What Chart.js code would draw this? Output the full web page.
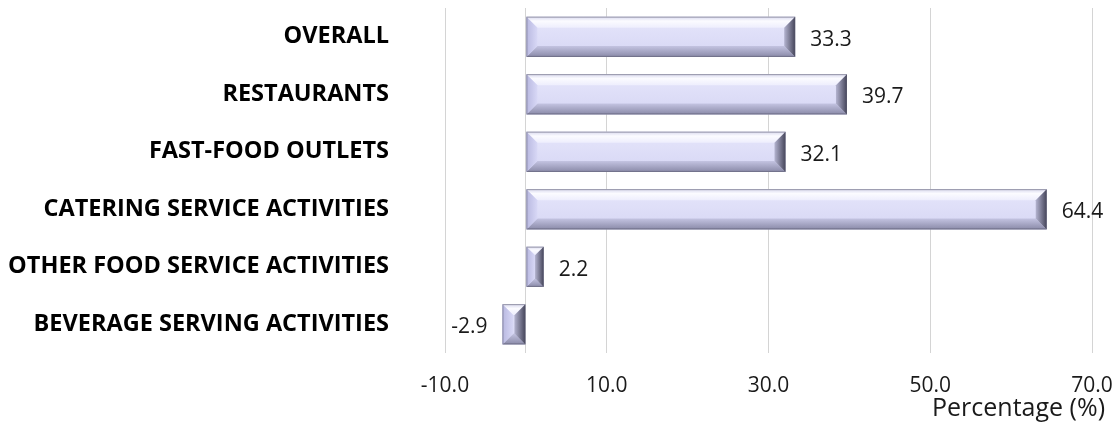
<!DOCTYPE html>
<html>
<head>
<meta charset="utf-8">
<script src="https://cdn.jsdelivr.net/npm/chart.js@4/dist/chart.umd.min.js"></script>
<style>
    html, body { margin: 0; padding: 0; background: #fff; }
    #wrap { width: 1114px; height: 434px; }
</style>
</head>
<body>
<div id="wrap"><canvas id="chart"></canvas></div>
<script>
const categories = [
    'OVERALL',
    'RESTAURANTS',
    'FAST-FOOD OUTLETS',
    'CATERING SERVICE ACTIVITIES',
    'OTHER FOOD SERVICE ACTIVITIES',
    'BEVERAGE SERVING ACTIVITIES'
];
const values = [33.3, 39.7, 32.1, 64.4, 2.2, -2.9];
// gridlines; 0 gets a line but no label
const tickValues = [-10, 0, 10, 30, 50, 70];
const axisTitle = 'Percentage (%)';

const FONT = '"Open Sans", "Noto Sans", sans-serif';

function poly(ctx, pts, fill) {
    ctx.beginPath();
    ctx.moveTo(pts[0][0], pts[0][1]);
    for (let i = 1; i < pts.length; i++) ctx.lineTo(pts[i][0], pts[i][1]);
    ctx.closePath();
    ctx.fillStyle = fill;
    ctx.fill();
}

// Bevelled bars + value labels, drawn from the bar elements
const bevelBars = {
    id: 'bevelBars',
    afterDatasetsDraw(chart) {
        const ctx = chart.ctx;
        const meta = chart.getDatasetMeta(0);
        ctx.save();
        meta.data.forEach((bar, i) => {
            const p = bar.getProps(['x', 'y', 'base', 'height'], true);
            const x0 = Math.min(p.x, p.base), x1 = Math.max(p.x, p.base);
            const y0 = p.y - p.height / 2, y1 = p.y + p.height / 2;
            const w = x1 - x0, h = y1 - y0;
            const b = Math.min(11, w / 2, h / 2);

            // face
            let g = ctx.createLinearGradient(0, y0, 0, y1);
            g.addColorStop(0, '#e6e6fb');
            g.addColorStop(1, '#d6d6f4');
            ctx.fillStyle = g;
            ctx.fillRect(x0, y0, w, h);

            // top
            g = ctx.createLinearGradient(0, y0, 0, y0 + b);
            g.addColorStop(0, '#d8d8ee');
            g.addColorStop(0.4, '#fbfbff');
            g.addColorStop(1, '#eeeefd');
            poly(ctx, [[x0, y0], [x1, y0], [x1 - b, y0 + b], [x0 + b, y0 + b]], g);
            // bottom
            g = ctx.createLinearGradient(0, y1 - b, 0, y1);
            g.addColorStop(0, '#c4c4e2');
            g.addColorStop(1, '#8a8aa8');
            poly(ctx, [[x0, y1], [x1, y1], [x1 - b, y1 - b], [x0 + b, y1 - b]], g);
            // left
            g = ctx.createLinearGradient(x0, 0, x0 + b, 0);
            g.addColorStop(0, '#b8b8e0');
            g.addColorStop(1, '#d8d8f6');
            poly(ctx, [[x0, y0], [x0 + b, y0 + b], [x0 + b, y1 - b], [x0, y1]], g);
            // right
            g = ctx.createLinearGradient(x1 - b, 0, x1, 0);
            g.addColorStop(0, '#b4b4d0');
            g.addColorStop(1, '#45455a');
            poly(ctx, [[x1, y0], [x1 - b, y0 + b], [x1 - b, y1 - b], [x1, y1]], g);

            ctx.strokeStyle = 'rgba(90,90,110,0.55)';
            ctx.lineWidth = 1;
            ctx.strokeRect(x0 + 0.5, y0 + 0.5, w - 1, h - 1);

            // value label
            const v = values[i];
            ctx.font = '21px ' + FONT;
            ctx.fillStyle = '#1a1a1a';
            ctx.textBaseline = 'middle';
            if (v >= 0) {
                ctx.textAlign = 'left';
                ctx.fillText(v.toFixed(1), x1 + 15, p.y + 3);
            } else {
                ctx.textAlign = 'right';
                ctx.fillText(v.toFixed(1), x0 - 15, p.y + 3);
            }
        });
        ctx.restore();
    }
};

new Chart(document.getElementById('chart'), {
    type: 'bar',
    data: {
        labels: categories,
        datasets: [{
            data: values,
            backgroundColor: 'rgba(0,0,0,0)',
            borderWidth: 0,
            categoryPercentage: 1.0,
            barPercentage: 0.7
        }]
    },
    options: {
        indexAxis: 'y',
        responsive: true,
        maintainAspectRatio: false,
        animation: false,
        layout: { padding: { top: 8, right: 9, left: 5, bottom: 0 } },
        plugins: {
            legend: { display: false },
            tooltip: { enabled: false },
            title: {
                display: true,
                text: axisTitle,
                position: 'bottom',
                align: 'end',
                color: '#1a1a1a',
                font: { family: FONT, size: 25, weight: 'normal' },
                padding: { top: 0, bottom: 10 }
            }
        },
        scales: {
            x: {
                min: -10,
                max: 70,
                afterBuildTicks: (scale) => {
                    scale.ticks = tickValues.map(v => ({ value: v }));
                },
                afterFit: (scale) => {
                    scale.height = 41;
                    scale.paddingRight = 22;
                },
                grid: { color: '#d4d4d4', lineWidth: 1, drawTicks: false },
                border: { display: false },
                ticks: {
                    padding: 20,
                    maxRotation: 0,
                    color: '#1a1a1a',
                    font: { family: FONT, size: 21 },
                    callback: (v) => v === 0 ? '' : Number(v).toFixed(1)
                }
            },
            y: {
                grid: { display: false, drawTicks: false },
                border: { display: false },
                afterFit: (scale) => {
                    scale.width = 440;
                    scale.paddingTop = 0;
                    scale.paddingBottom = 0;
                },
                ticks: {
                    padding: 56,
                    color: '#000',
                    font: { family: FONT, size: 23.5, weight: 'bold' }
                }
            }
        }
    },
    plugins: [bevelBars]
});
</script>
</body>
</html>
